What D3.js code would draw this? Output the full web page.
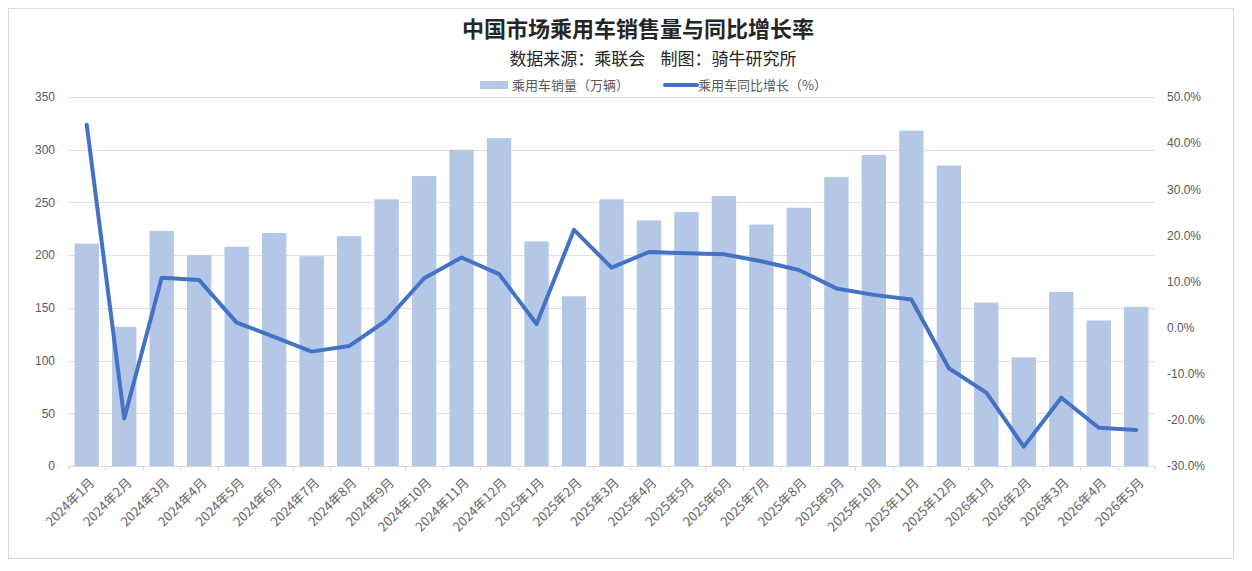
<!DOCTYPE html>
<html>
<head>
<meta charset="utf-8">
<script src="https://cdnjs.cloudflare.com/ajax/libs/d3/7.8.5/d3.min.js"></script>
<style>
  body { margin: 0; background: #fff; }
  svg { font-family: "Noto Sans CJK SC", "Noto Sans", sans-serif; }
  .axis text { fill: #595959; font-size: 12px; }
  .axis path, .axis line { stroke: #d9d9d9; }
</style>
</head>
<body>
<script>
// data
var months = ["2024年1月","2024年2月","2024年3月","2024年4月","2024年5月","2024年6月","2024年7月","2024年8月","2024年9月","2024年10月","2024年11月","2024年12月",
  "2025年1月","2025年2月","2025年3月","2025年4月","2025年5月","2025年6月","2025年7月","2025年8月","2025年9月","2025年10月","2025年11月","2025年12月",
  "2026年1月","2026年2月","2026年3月","2026年4月","2026年5月"];
var sales = [211,132,223,200,208,221,199,218,253,275,300,311,213,161,253,233,241,256,229,245,274,295,318,285,155,103,165,138,151];
var growth = [44.0,-19.7,10.8,10.3,1.1,-2.0,-5.2,-4.0,1.6,10.7,15.2,11.6,0.8,21.2,13.0,16.4,16.1,15.9,14.4,12.5,8.5,7.1,6.1,-8.8,-14.1,-25.8,-15.2,-21.7,-22.2];
var leftTicks = [0,50,100,150,200,250,300,350];
var rightTicks = [-30,-20,-10,0,10,20,30,40,50];

(function(){
	const W = 1252, H = 571;
	const MARGIN = { top: 97, right: 97, bottom: 105, left: 68 };
	const width = W - MARGIN.left - MARGIN.right;
	const height = H - MARGIN.top - MARGIN.bottom;

	var svg = d3.select('body').append('svg')
		.attr('width', W)
		.attr('height', H);

	// outer frame
	svg.append('rect')
		.attr('x', 8.5).attr('y', 8.5)
		.attr('width', 1225).attr('height', 550)
		.attr('fill', '#fff')
		.attr('stroke', '#d9d9d9');

	// titles
	svg.append('text')
		.attr('x', 638).attr('y', 37)
		.attr('text-anchor', 'middle')
		.style('font-size', '22px').style('font-weight', 'bold').style('fill', '#262626')
		.text('中国市场乘用车销售量与同比增长率');
	svg.append('text')
		.attr('x', 653).attr('y', 65)
		.attr('text-anchor', 'middle')
		.style('font-size', '17px').style('fill', '#262626')
		.attr('xml:space', 'preserve')
		.text('数据来源：乘联会    制图：骑牛研究所');

	// legend
	var legend = svg.append('g').attr('transform', 'translate(0,85)');
	legend.append('rect').attr('x', 480).attr('y', -4).attr('width', 28).attr('height', 8).attr('fill', '#b4c7e7');
	legend.append('text').attr('x', 512).attr('y', 4.5).style('font-size', '13px').style('fill', '#595959').text('乘用车销量（万辆）');
	legend.append('line').attr('x1', 665).attr('x2', 697).attr('y1', 0).attr('y2', 0)
		.attr('stroke', '#4472c4').attr('stroke-width', 4).attr('stroke-linecap', 'round');
	legend.append('text').attr('x', 698).attr('y', 4.5).style('font-size', '13px').style('fill', '#595959').text('乘用车同比增长（%）');

	var g = svg.append('g').attr('transform', 'translate(' + MARGIN.left + ',' + MARGIN.top + ')');

	var x = d3.scaleBand().domain(months).range([0, width]).paddingInner(0.35).paddingOuter(0.175);
	var xBand = d3.scaleBand().domain(months).range([0, width]);
	var yL = d3.scaleLinear().domain([0, 350]).range([height, 0]);
	var yR = d3.scaleLinear().domain([-30, 50]).range([height, 0]);

	// gridlines
	g.append('g').selectAll('line').data(leftTicks.slice(1)).enter().append('line')
		.attr('x1', 0).attr('x2', width)
		.attr('y1', function(d){ return Math.round(yL(d)) + 0.5; })
		.attr('y2', function(d){ return Math.round(yL(d)) + 0.5; })
		.attr('stroke', '#e0e0e0');

	// bars
	g.append('g').selectAll('rect').data(sales).enter().append('rect')
		.attr('x', function(d, i){ return x(months[i]); })
		.attr('y', function(d){ return yL(d); })
		.attr('width', x.bandwidth())
		.attr('height', function(d){ return height - yL(d); })
		.attr('fill', '#b4c7e7');

	// axes
	var axL = g.append('g').attr('class', 'axis')
		.call(d3.axisLeft(yL).tickValues(leftTicks).tickSize(0).tickPadding(13));
	axL.select('.domain').remove();

	var axR = g.append('g').attr('class', 'axis')
		.attr('transform', 'translate(' + width + ',0)')
		.call(d3.axisRight(yR).tickValues(rightTicks).tickSize(0).tickPadding(12)
			.tickFormat(function(d){ return d.toFixed(1) + '%'; }));
	axR.select('.domain').remove();

	// x axis with boundary ticks
	var axX = g.append('g').attr('class', 'axis').attr('transform', 'translate(0,' + height + ')');
	axX.append('line').attr('x1', 0).attr('x2', width).attr('y1', 0.5).attr('y2', 0.5).attr('stroke', '#d9d9d9');
	axX.selectAll('line.tick').data(months.concat(['end'])).enter().append('line')
		.attr('class', 'tick')
		.attr('x1', function(d, i){ return Math.round(i * xBand.step()) + 0.5; })
		.attr('x2', function(d, i){ return Math.round(i * xBand.step()) + 0.5; })
		.attr('y1', 0).attr('y2', 5)
		.attr('stroke', '#d9d9d9');
	axX.selectAll('text').data(months).enter().append('text')
		.attr('transform', function(d){ return 'translate(' + (xBand(d) + xBand.bandwidth() / 2 + 2) + ',11) rotate(-45)'; })
		.attr('text-anchor', 'end')
		.attr('dy', '0.7em')
		.style('font-size', '13px')
		.style('fill', '#666')
		.text(function(d){ return d; });

	// growth line
	var line = d3.line()
		.x(function(d, i){ return xBand(months[i]) + xBand.bandwidth() / 2; })
		.y(function(d){ return yR(d); });
	g.append('path').datum(growth)
		.attr('fill', 'none')
		.attr('stroke', '#4472c4')
		.attr('stroke-width', 4)
		.attr('stroke-linejoin', 'round')
		.attr('stroke-linecap', 'round')
		.attr('d', line);
})();
</script>
</body>
</html>
